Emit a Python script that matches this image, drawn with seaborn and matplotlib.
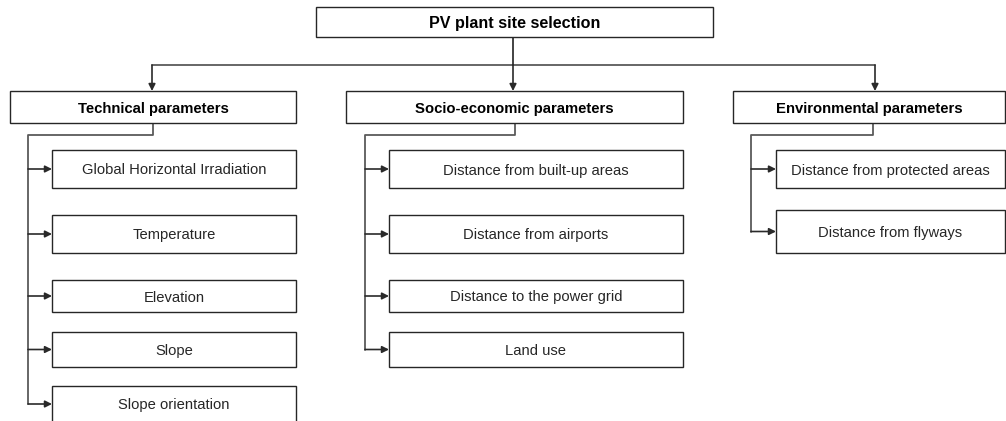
import matplotlib
matplotlib.use("Agg")
import matplotlib.pyplot as plt
import seaborn as sns
from matplotlib.patches import Rectangle

# labels of the hierarchy
ROOT = "PV plant site selection"
GROUPS = ["Technical parameters", "Socio-economic parameters", "Environmental parameters"]
TECHNICAL = ["Global Horizontal Irradiation", "Temperature", "Elevation", "Slope", "Slope orientation"]
SOCIO = ["Distance from built-up areas", "Distance from airports",
         "Distance to the power grid", "Land use"]
ENVIRONMENTAL = ["Distance from protected areas", "Distance from flyways"]
CHILDREN = [TECHNICAL, SOCIO, ENVIRONMENTAL]

# layout in pixel units (x0, y0, x1, y1)
W, H = 1006, 421
ROOT_BOX = (316, 7, 713, 37)
GROUP_BOXES = [(10, 91, 296, 123), (346, 91, 683, 123), (733, 91, 1005, 123)]
GROUP_ARROW_X = [152, 513, 875]
BUS_Y = 65
STEM_X = [153, 515, 873]
TRUNK_X = [28, 365, 751]
CHILD_LEFT = [52, 389, 776]
ROWS = [(150, 188), (215, 253), (280, 312), (332, 367), (386, 440)]
ROWS_ENV = [(150, 188), (210, 253)]
SPLIT_Y = 135
CLIPPED_TEXT_Y = 404
TEXT_DY = 1.5

EDGE = "#262626"
LINE = "#5a5a5a"
TEXT = "#262626"

sns.set_style("white")
plt.rcParams["font.family"] = ["Liberation Sans", "DejaVu Sans"]

fig = plt.figure(figsize=(W / 100, H / 100), dpi=100)
ax = fig.add_axes([0, 0, 1, 1])
ax.set_xlim(0, W)
ax.set_ylim(H, 0)
ax.axis("off")


def box(b, label, size=10.6, bold=False):
    x0, y0, x1, y1 = b
    ax.add_patch(Rectangle((x0, y0), x1 - x0, y1 - y0, facecolor="white",
                           edgecolor=EDGE, lw=1.0, zorder=3))
    yc = CLIPPED_TEXT_Y if y1 > H else (y0 + y1) / 2
    ax.text((x0 + x1) / 2, yc + TEXT_DY, label, ha="center", va="center",
            fontsize=size, fontweight="bold" if bold else "normal",
            color="black" if bold else TEXT, zorder=4)


def arrow(x0, y0, x1, y1):
    ax.annotate("", xy=(x1, y1), xytext=(x0, y0),
                arrowprops=dict(arrowstyle="-|>", lw=1.2, mutation_scale=10,
                                shrinkA=0, shrinkB=0, color="#2a2a2a"), zorder=2)


box(ROOT_BOX, ROOT, size=11.6, bold=True)
ax.plot([GROUP_ARROW_X[0], GROUP_ARROW_X[-1]], [BUS_Y, BUS_Y], color=LINE, lw=1.3, zorder=1)
ax.plot([GROUP_ARROW_X[1], GROUP_ARROW_X[1]], [ROOT_BOX[3], BUS_Y], color="#222222", lw=1.2, zorder=1)
for gx, gb in zip(GROUP_ARROW_X, GROUP_BOXES):
    arrow(gx, BUS_Y, gx, gb[1])

for i, (gb, label, kids) in enumerate(zip(GROUP_BOXES, GROUPS, CHILDREN)):
    box(gb, label, size=10.7, bold=True)
    rows = ROWS_ENV if i == 2 else ROWS
    ys = [(r[0] + r[1]) / 2 if r[1] < H else CLIPPED_TEXT_Y for r in rows[:len(kids)]]
    ax.plot([STEM_X[i], STEM_X[i], TRUNK_X[i], TRUNK_X[i]],
            [gb[3], SPLIT_Y, SPLIT_Y, ys[-1]], color=LINE, lw=1.3, zorder=1)
    for kid, r, yc in zip(kids, rows, ys):
        box((CHILD_LEFT[i], r[0], gb[2], r[1]), kid)
        arrow(TRUNK_X[i], yc, CHILD_LEFT[i], yc)

fig.savefig("out.png", dpi=100, facecolor="white")
